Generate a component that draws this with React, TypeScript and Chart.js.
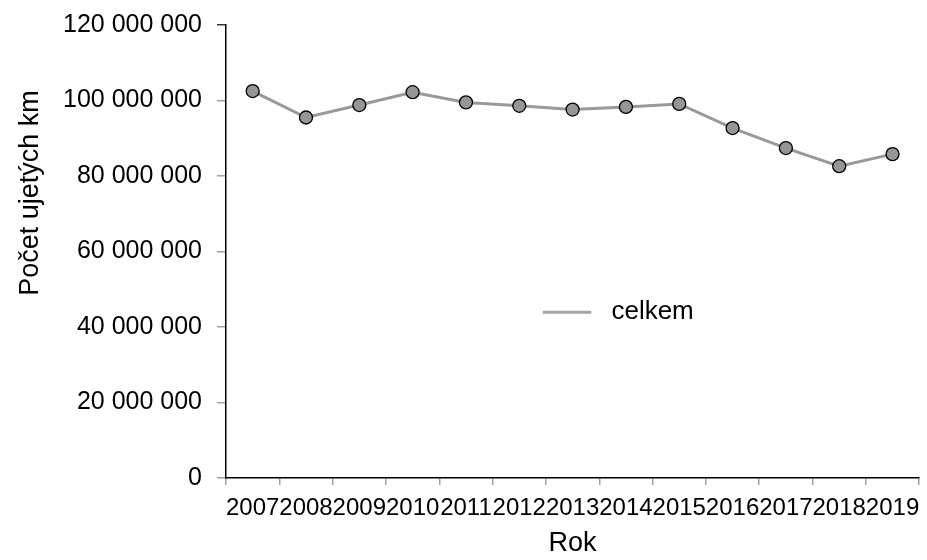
import React, { useEffect, useRef } from "react";
import { Chart, registerables } from "chart.js";

Chart.register(...registerables);

const years = ["2007", "2008", "2009", "2010", "2011", "2012", "2013", "2014", "2015", "2016", "2017", "2018", "2019"];
const celkem = [102500000, 95500000, 98800000, 102200000, 99500000, 98600000, 97600000, 98300000, 99100000, 92700000, 87400000, 82600000, 85800000];
const seriesLabel = "celkem";
const yTitle = "Počet ujetých km";
const xTitle = "Rok";
const yMin = 0;
const yMax = 120000000;
const yStep = 20000000;

const FONT = "'Liberation Sans', Arial, sans-serif";

const fmt = (v: number) => String(Math.round(v)).replace(/\B(?=(\d{3})+(?!\d))/g, " ");

const overlayPlugin = {
  id: "overlay",
  afterDraw(chart: any) {
    const { ctx, chartArea } = chart;
    const w = chartArea.right - chartArea.left;
    const h = chartArea.bottom - chartArea.top;
    ctx.save();
    // y title
    ctx.translate(31, chartArea.top + h * 0.371);
    ctx.rotate(-Math.PI / 2);
    ctx.font = `27px ${FONT}`;
    ctx.fillStyle = "#000";
    ctx.textAlign = "center";
    ctx.textBaseline = "middle";
    ctx.fillText(yTitle, 0, 0);
    ctx.restore();
    // legend
    const ds = chart.data.datasets[0];
    const ly = chartArea.top + h * 0.634;
    const lx1 = chartArea.left + w * 0.457;
    const lx2 = chartArea.left + w * 0.527;
    ctx.save();
    ctx.strokeStyle = "#a6a6a6";
    ctx.lineWidth = 3;
    ctx.beginPath();
    ctx.moveTo(lx1, ly);
    ctx.lineTo(lx2, ly);
    ctx.stroke();
    ctx.font = `26px ${FONT}`;
    ctx.fillStyle = "#000";
    ctx.textAlign = "left";
    ctx.textBaseline = "middle";
    ctx.fillText(ds.label, chartArea.left + w * 0.556, ly);
    ctx.restore();
  },
};

export default function App() {
  const ref = useRef<HTMLCanvasElement | null>(null);
  useEffect(() => {
    if (!ref.current) return;
    const chart = new Chart(ref.current, {
      type: "line",
      data: {
        labels: years,
        datasets: [
          {
            label: seriesLabel,
            data: celkem,
            borderColor: "#999999",
            borderWidth: 3,
            backgroundColor: "#969696",
            pointBackgroundColor: "#969696",
            pointBorderColor: "#000000",
            pointBorderWidth: 1.3,
            pointRadius: 6.5,
            tension: 0,
          },
        ],
      },
      options: {
        animation: false,
        responsive: false,
        layout: { padding: { top: 25, right: 7, left: 0, bottom: 0 } },
        plugins: {
          legend: { display: false },
          tooltip: { enabled: false },
        },
        scales: {
          x: {
            offset: true,
            grid: {
              offset: true,
              drawOnChartArea: false,
              tickLength: 7,
              color: "#a0a0a0",
              lineWidth: 1.5,
            },
            border: { color: "#000", width: 1.5 },
            ticks: {
              autoSkip: false,
              maxRotation: 0,
              color: "#000",
              font: { family: FONT, size: 24 },
              padding: 9,
            },
            title: {
              display: true,
              text: xTitle,
              color: "#000",
              font: { family: FONT, size: 27 },
              padding: { top: 4, bottom: 0 },
            },
            afterFit: (s: any) => {
              s.height = 82;
              s.paddingLeft = 0;
              s.paddingRight = 0;
            },
          },
          y: {
            min: yMin,
            max: yMax,
            grid: {
              drawOnChartArea: false,
              tickLength: 9,
              color: (c: any) => (c.index === 6 ? "#333" : "#a0a0a0"),
              lineWidth: 1.5,
            },
            border: { color: "#000", width: 1.5 },
            ticks: {
              stepSize: yStep,
              color: "#000",
              font: { family: FONT, size: 25 },
              padding: 15,
              callback: (v: any) => fmt(Number(v)),
            },
            afterFit: (s: any) => {
              s.width = 226;
              s.paddingTop = 0;
              s.paddingBottom = 0;
            },
          },
        },
      },
      plugins: [overlayPlugin],
    });
    return () => chart.destroy();
  }, []);
  return (
    <div style={{ position: "absolute", left: 0, top: 0, width: 927, height: 560, background: "#fff" }}>
      <canvas ref={ref} width={927} height={560} style={{ width: 927, height: 560 }} />
    </div>
  );
}
